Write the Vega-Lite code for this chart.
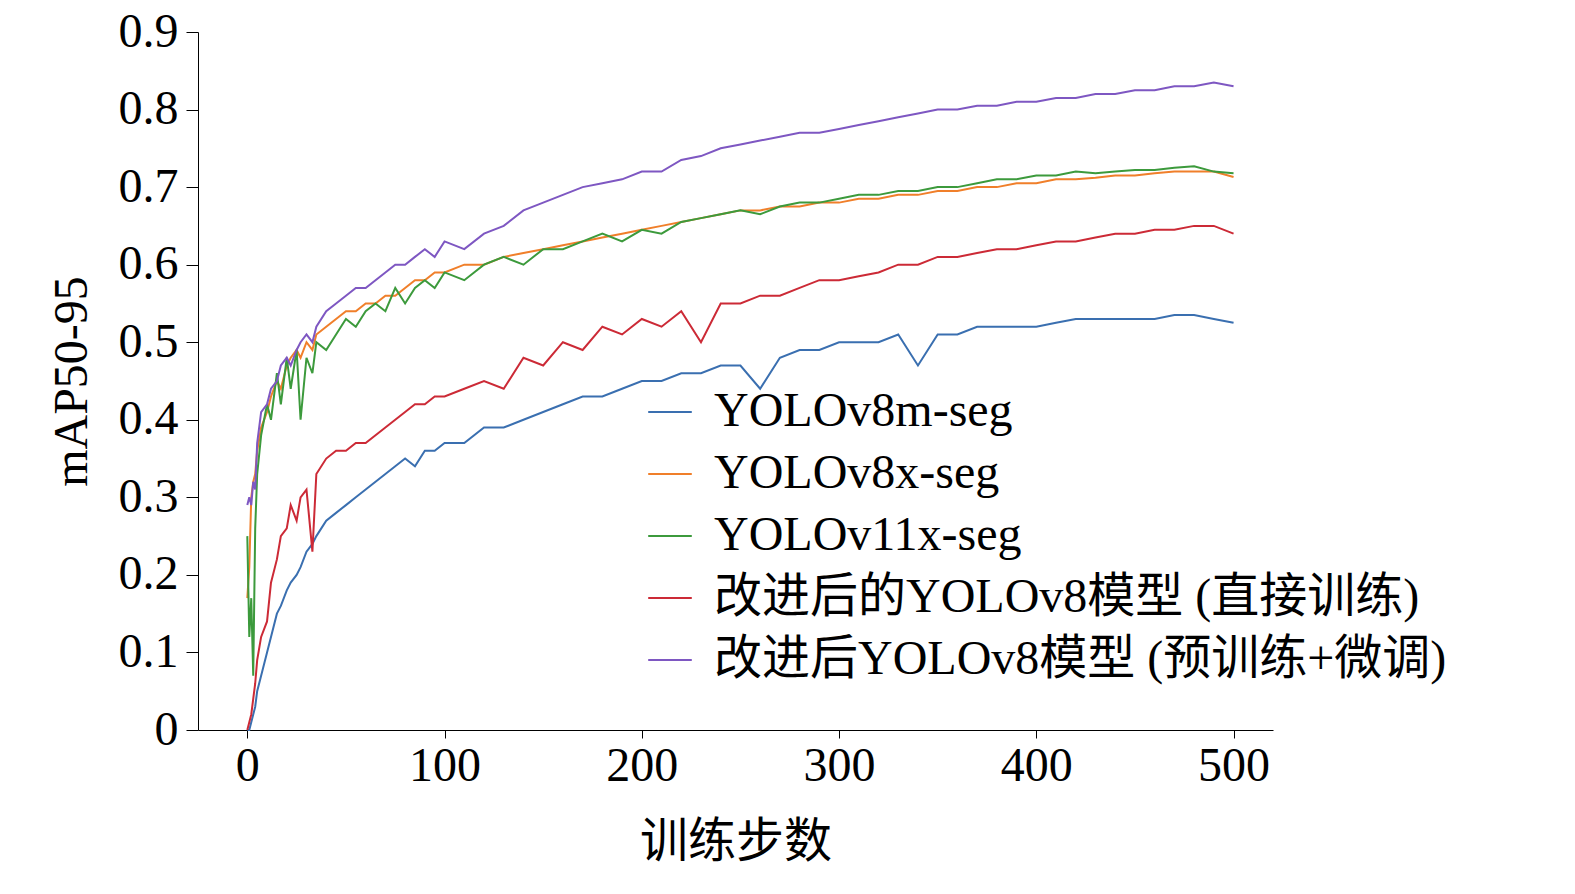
{
  "$schema": "https://vega.github.io/schema/vega-lite/v6.json",
  "autosize": {"type": "none"},
  "width": 1075,
  "height": 698,
  "padding": {"left": 198, "top": 32, "right": 302, "bottom": 164},
  "background": "white",
  "config": {"view": {"stroke": null}, "font": "Liberation Serif"},
  "data": {"values": [
    {"e":0,"m":0.00,"x":0.17,"g":0.25,"r":0.00,"p":0.29},
    {"e":1,"m":0.00,"x":0.21,"g":0.12,"r":0.01,"p":0.30},
    {"e":2,"m":0.01,"x":0.30,"g":0.17,"r":0.02,"p":0.29},
    {"e":3,"m":0.02,"x":0.32,"g":0.07,"r":0.04,"p":0.32},
    {"e":4,"m":0.03,"x":0.33,"g":0.26,"r":0.06,"p":0.31},
    {"e":5,"m":0.05,"x":0.36,"g":0.33,"r":0.09,"p":0.37},
    {"e":7,"m":0.07,"x":0.39,"g":0.38,"r":0.12,"p":0.41},
    {"e":10,"m":0.10,"x":0.41,"g":0.42,"r":0.14,"p":0.42},
    {"e":12,"m":0.12,"x":0.43,"g":0.40,"r":0.19,"p":0.44},
    {"e":15,"m":0.15,"x":0.45,"g":0.46,"r":0.22,"p":0.45},
    {"e":17,"m":0.16,"x":0.44,"g":0.42,"r":0.25,"p":0.47},
    {"e":20,"m":0.18,"x":0.47,"g":0.48,"r":0.26,"p":0.48},
    {"e":22,"m":0.19,"x":0.48,"g":0.44,"r":0.29,"p":0.47},
    {"e":25,"m":0.20,"x":0.49,"g":0.49,"r":0.27,"p":0.49},
    {"e":27,"m":0.21,"x":0.48,"g":0.40,"r":0.30,"p":0.50},
    {"e":30,"m":0.23,"x":0.50,"g":0.48,"r":0.31,"p":0.51},
    {"e":33,"m":0.24,"x":0.49,"g":0.46,"r":0.23,"p":0.50},
    {"e":35,"m":0.25,"x":0.51,"g":0.50,"r":0.33,"p":0.52},
    {"e":40,"m":0.27,"x":0.52,"g":0.49,"r":0.35,"p":0.54},
    {"e":45,"m":0.28,"x":0.53,"g":0.51,"r":0.36,"p":0.55},
    {"e":50,"m":0.29,"x":0.54,"g":0.53,"r":0.36,"p":0.56},
    {"e":55,"m":0.30,"x":0.54,"g":0.52,"r":0.37,"p":0.57},
    {"e":60,"m":0.31,"x":0.55,"g":0.54,"r":0.37,"p":0.57},
    {"e":65,"m":0.32,"x":0.55,"g":0.55,"r":0.38,"p":0.58},
    {"e":70,"m":0.33,"x":0.56,"g":0.54,"r":0.39,"p":0.59},
    {"e":75,"m":0.34,"x":0.56,"g":0.57,"r":0.40,"p":0.60},
    {"e":80,"m":0.35,"x":0.57,"g":0.55,"r":0.41,"p":0.60},
    {"e":85,"m":0.34,"x":0.58,"g":0.57,"r":0.42,"p":0.61},
    {"e":90,"m":0.36,"x":0.58,"g":0.58,"r":0.42,"p":0.62},
    {"e":95,"m":0.36,"x":0.59,"g":0.57,"r":0.43,"p":0.61},
    {"e":100,"m":0.37,"x":0.59,"g":0.59,"r":0.43,"p":0.63},
    {"e":110,"m":0.37,"x":0.60,"g":0.58,"r":0.44,"p":0.62},
    {"e":120,"m":0.39,"x":0.60,"g":0.60,"r":0.45,"p":0.64},
    {"e":130,"m":0.39,"x":0.61,"g":0.61,"r":0.44,"p":0.65},
    {"e":140,"m":0.40,"x":0.615,"g":0.60,"r":0.48,"p":0.67},
    {"e":150,"m":0.41,"x":0.62,"g":0.62,"r":0.47,"p":0.68},
    {"e":160,"m":0.42,"x":0.625,"g":0.62,"r":0.50,"p":0.69},
    {"e":170,"m":0.43,"x":0.63,"g":0.63,"r":0.49,"p":0.70},
    {"e":180,"m":0.43,"x":0.635,"g":0.64,"r":0.52,"p":0.705},
    {"e":190,"m":0.44,"x":0.64,"g":0.63,"r":0.51,"p":0.71},
    {"e":200,"m":0.45,"x":0.645,"g":0.645,"r":0.53,"p":0.72},
    {"e":210,"m":0.45,"x":0.65,"g":0.64,"r":0.52,"p":0.72},
    {"e":220,"m":0.46,"x":0.655,"g":0.655,"r":0.54,"p":0.735},
    {"e":230,"m":0.46,"x":0.66,"g":0.66,"r":0.50,"p":0.74},
    {"e":240,"m":0.47,"x":0.665,"g":0.665,"r":0.55,"p":0.75},
    {"e":250,"m":0.47,"x":0.67,"g":0.67,"r":0.55,"p":0.755},
    {"e":260,"m":0.44,"x":0.67,"g":0.665,"r":0.56,"p":0.76},
    {"e":270,"m":0.48,"x":0.675,"g":0.675,"r":0.56,"p":0.765},
    {"e":280,"m":0.49,"x":0.675,"g":0.68,"r":0.57,"p":0.77},
    {"e":290,"m":0.49,"x":0.68,"g":0.68,"r":0.58,"p":0.77},
    {"e":300,"m":0.50,"x":0.68,"g":0.685,"r":0.58,"p":0.775},
    {"e":310,"m":0.50,"x":0.685,"g":0.69,"r":0.585,"p":0.78},
    {"e":320,"m":0.50,"x":0.685,"g":0.69,"r":0.59,"p":0.785},
    {"e":330,"m":0.51,"x":0.69,"g":0.695,"r":0.60,"p":0.79},
    {"e":340,"m":0.47,"x":0.69,"g":0.695,"r":0.60,"p":0.795},
    {"e":350,"m":0.51,"x":0.695,"g":0.70,"r":0.61,"p":0.80},
    {"e":360,"m":0.51,"x":0.695,"g":0.70,"r":0.61,"p":0.80},
    {"e":370,"m":0.52,"x":0.70,"g":0.705,"r":0.615,"p":0.805},
    {"e":380,"m":0.52,"x":0.70,"g":0.71,"r":0.62,"p":0.805},
    {"e":390,"m":0.52,"x":0.705,"g":0.71,"r":0.62,"p":0.81},
    {"e":400,"m":0.52,"x":0.705,"g":0.715,"r":0.625,"p":0.81},
    {"e":410,"m":0.525,"x":0.71,"g":0.715,"r":0.63,"p":0.815},
    {"e":420,"m":0.53,"x":0.71,"g":0.72,"r":0.63,"p":0.815},
    {"e":430,"m":0.53,"x":0.712,"g":0.718,"r":0.635,"p":0.82},
    {"e":440,"m":0.53,"x":0.715,"g":0.72,"r":0.64,"p":0.82},
    {"e":450,"m":0.53,"x":0.715,"g":0.722,"r":0.64,"p":0.825},
    {"e":460,"m":0.53,"x":0.718,"g":0.722,"r":0.645,"p":0.825},
    {"e":470,"m":0.535,"x":0.72,"g":0.725,"r":0.645,"p":0.83},
    {"e":480,"m":0.535,"x":0.72,"g":0.727,"r":0.65,"p":0.83},
    {"e":490,"m":0.53,"x":0.72,"g":0.72,"r":0.65,"p":0.835},
    {"e":500,"m":0.525,"x":0.713,"g":0.718,"r":0.64,"p":0.83}
  ]},
  "transform": [{"fold": ["m", "x", "g", "r", "p"], "as": ["k", "v"]}],
  "mark": {"type": "line", "strokeWidth": 2},
  "encoding": {
    "x": {
      "field": "e", "type": "quantitative",
      "scale": {"domain": [-25, 520], "nice": false, "zero": false},
      "axis": {"values": [0, 100, 200, 300, 400, 500], "title": "训练步数", "titleFont": "Noto Sans CJK SC", "titleFontWeight": "normal", "titleFontSize": 48, "titlePadding": 28, "labelFontSize": 48, "labelPadding": 4, "tickSize": 8, "grid": false, "domainColor": "black", "tickColor": "black", "labelColor": "black", "titleColor": "black"}
    },
    "y": {
      "field": "v", "type": "quantitative",
      "scale": {"domain": [0, 0.9], "nice": false},
      "axis": {"values": [0, 0.1, 0.2, 0.3, 0.4, 0.5, 0.6, 0.7, 0.8, 0.9], "labelExpr": "datum.value == 0 ? '0' : format(datum.value, '.1f')", "title": "mAP50-95", "titleFontWeight": "normal", "titleFontSize": 48, "titlePadding": 22, "labelFontSize": 48, "labelPadding": 8, "tickSize": 12, "grid": false, "domainColor": "black", "tickColor": "black", "labelColor": "black", "titleColor": "black"}
    },
    "color": {
      "field": "k", "type": "nominal",
      "sort": ["m", "x", "g", "r", "p"],
      "scale": {"domain": ["m", "x", "g", "r", "p"], "range": ["#3a6fb0", "#f07f2a", "#3c9a3c", "#cc2a36", "#7e57c2"]},
      "legend": {
        "orient": "none", "legendX": 448, "legendY": 356, "title": null,
        "labelExpr": "{'m':'YOLOv8m-seg','x':'YOLOv8x-seg','g':'YOLOv11x-seg','r':'改进后的YOLOv8模型 (直接训练)','p':'改进后YOLOv8模型 (预训练+微调)'}[datum.value]",
        "symbolType": "stroke", "symbolSize": 1900, "symbolStrokeWidth": 2,
        "labelFontSize": 48, "labelFont": "Liberation Serif, Noto Sans CJK SC", "labelColor": "black", "labelLimit": 1000,
        "rowPadding": 14, "labelOffset": 20
      }
    }
  }
}
